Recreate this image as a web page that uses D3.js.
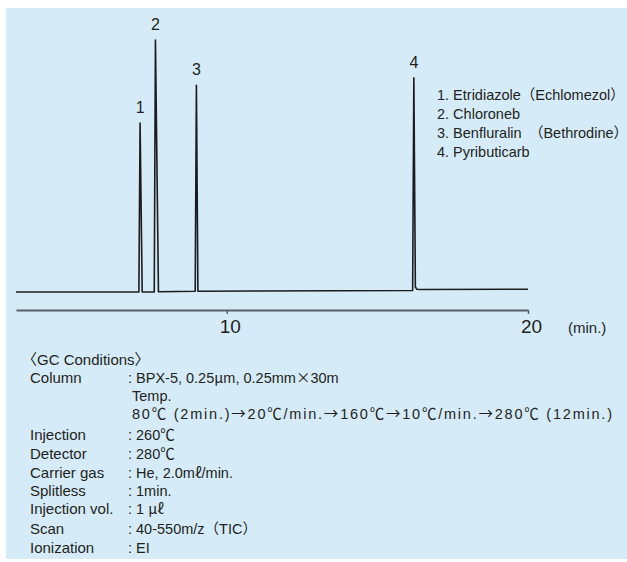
<!DOCTYPE html>
<html>
<head>
<meta charset="utf-8">
<script src="https://cdn.jsdelivr.net/npm/d3@7"></script>
<style>
  html, body { margin: 0; padding: 0; background: #ffffff; }
  svg { display: block; }
  text { font-family: "Liberation Sans", Arial, sans-serif; fill: #231f20; }
  tspan.cjk { font-family: "Noto Sans CJK JP", sans-serif; }
</style>
</head>
<body>
<svg id="chart" width="627" height="562"></svg>
<script>
// Retention times (min) and relative peak heights of the four compounds
const peakNames = ["1", "2", "3", "4"];
const peakTimes = [7.12, 7.63, 8.99, 16.21];
const peakHeights = [67, 100, 82, 85];

// Chromatogram trace: time (min) and relative intensity
const traceTimes = [3.0, 7.08, 7.12, 7.19, 7.59, 7.63, 7.73, 8.95, 8.99, 9.04, 16.17, 16.21, 16.26, 16.31, 16.40, 20.0];
const traceValues = [0, 0, 67, 0, 0, 100, 0.1, 0.3, 82, 0.3, 0.6, 85, 2.0, 1.1, 1.0, 1.1];

// Axis ticks
const tickValues = [10, 20];
const axisUnit = "(min.)";

// Compound list
const legendItems = [
  "1. Etridiazole（Echlomezol）",
  "2. Chloroneb",
  "3. Benfluralin　（Bethrodine）",
  "4. Pyributicarb"
];

// Analytical conditions: label / value rows (indent marks continuation lines)
const condTitle = "〈GC Conditions〉";
const condLabels = ["Column", "", "", "Injection", "Detector", "Carrier gas", "Splitless", "Injection vol.", "Scan", "Ionization"];
const condValues = [
  ": BPX-5, 0.25μm, 0.25mm×30m",
  "Temp.",
  "80℃ (2min.)→20℃/min.→160℃→10℃/min.→280℃ (12min.)",
  ": 260℃",
  ": 280℃",
  ": He, 2.0mℓ/min.",
  ": 1min.",
  ": 1 μℓ",
  ": 40-550m/z（TIC）",
  ": EI"
];
const condIndent = [false, true, true, false, false, false, false, false, false, false];
// the temperature programme line is set to a fixed measure
const condWidth = [null, null, 480, null, null, null, null, null, null, null];

// symbols set in the Japanese font
const cjkChars = new Set(["℃", "→", "μ", "ℓ", "×", "（", "）", "〈", "〉", "　"]);

// write a string as runs of Latin / CJK tspans
function richText(sel, str) {
  const runs = [];
  for (const ch of str) {
    const cjk = cjkChars.has(ch);
    if (runs.length && runs[runs.length - 1].cjk === cjk) runs[runs.length - 1].s += ch;
    else runs.push({ cjk, s: ch });
  }
  sel.selectAll("tspan")
    .data(runs)
    .join("tspan")
    .attr("class", d => d.cjk ? "cjk" : null)
    .text(d => d.s);
}

const svg = d3.select("#chart");

// panel background
svg.append("rect")
  .attr("x", 6).attr("y", 8)
  .attr("width", 621).attr("height", 551)
  .attr("fill", "#d5ebf8");

const x = d3.scaleLinear().domain([3, 20]).range([16, 528]);
const y = d3.scaleLinear().domain([0, 100]).range([292, 40]);

// time axis
const axis = svg.append("g")
  .attr("transform", "translate(0,310)")
  .call(d3.axisBottom(x).tickValues(tickValues).tickSize(4).tickSizeOuter(0).tickPadding(6));
axis.select(".domain").attr("stroke", "#56626b").attr("stroke-width", 2);
axis.selectAll(".tick line").attr("stroke", "#56626b").attr("stroke-width", 1.5);
axis.selectAll(".tick text")
  .attr("font-size", 19)
  .attr("font-family", "\"Liberation Sans\", Arial, sans-serif")
  .attr("fill", "#231f20")
  .attr("dx", 3);

svg.append("text")
  .attr("x", 568).attr("y", 333)
  .attr("font-size", 15)
  .text(axisUnit);

// trace
const traceData = traceTimes.map((t, i) => [t, traceValues[i]]);
svg.append("path")
  .datum(traceData)
  .attr("fill", "none")
  .attr("stroke", "#1c1c1c")
  .attr("stroke-width", 1.6)
  .attr("stroke-linejoin", "round")
  .attr("d", d3.line().x(d => x(d[0])).y(d => y(d[1])));

// peak numbers
svg.selectAll(".peak-label")
  .data(peakNames)
  .join("text")
  .attr("class", "peak-label")
  .attr("x", (d, i) => x(peakTimes[i]))
  .attr("y", (d, i) => y(peakHeights[i]) - 10)
  .attr("text-anchor", "middle")
  .attr("font-size", 16)
  .text(d => d);

// compound list
svg.selectAll(".legend")
  .data(legendItems)
  .join("text")
  .attr("class", "legend")
  .attr("x", 437)
  .attr("y", (d, i) => 100 + i * 19)
  .attr("font-size", 14.5)
  .each(function (d) { richText(d3.select(this), d); });

// conditions block
svg.append("text")
  .attr("x", 22).attr("y", 365)
  .attr("font-size", 15)
  .each(function () { richText(d3.select(this), condTitle); });

const rowY = [383, 401, 419, 440, 459, 478, 496, 514, 534, 553];
svg.selectAll(".cond-label")
  .data(condLabels)
  .join("text")
  .attr("class", "cond-label")
  .attr("x", 30)
  .attr("y", (d, i) => rowY[i])
  .attr("font-size", 15)
  .text(d => d);

svg.selectAll(".cond-value")
  .data(condValues)
  .join("text")
  .attr("class", "cond-value")
  .attr("x", (d, i) => condIndent[i] ? 132 : 128)
  .attr("y", (d, i) => rowY[i])
  .attr("font-size", 14.5)
  .style("white-space", "pre")
  .each(function (d, i) {
    const t = d3.select(this);
    richText(t, d);
    if (condWidth[i]) t.attr("textLength", condWidth[i]).attr("lengthAdjust", "spacing");
  });
</script>
</body>
</html>
